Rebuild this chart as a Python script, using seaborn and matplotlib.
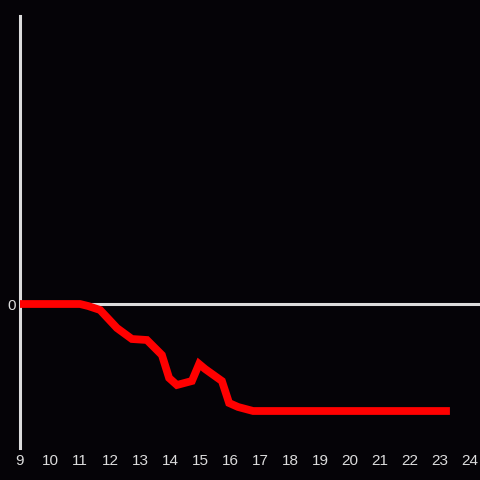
import matplotlib
matplotlib.use("Agg")
import matplotlib.pyplot as plt
import seaborn as sns
import pandas as pd

# hour of day vs value
hours = [9, 11, 11.27, 11.67, 12.23, 12.73, 13.23, 13.73, 13.97, 14.23, 14.73,
         14.97, 15.17, 15.73, 15.97, 16.27, 16.77, 23.33]
values = [0, 0, -0.02, -0.06, -0.24, -0.35, -0.36, -0.51, -0.74, -0.81, -0.77,
          -0.60, -0.65, -0.77, -0.99, -1.03, -1.07, -1.07]
xticks = list(range(9, 25))

bg = "#050307"
fg = "#dcdcdc"

sns.set_theme(style="dark")
fig = plt.figure(figsize=(4.8, 4.8), dpi=100, facecolor=bg)
ax = fig.add_axes([20 / 480, 32 / 480, 460 / 480, 432 / 480])
ax.set_facecolor(bg)

ax.axhline(0, color=fg, lw=2.2, zorder=1)
df = pd.DataFrame({"hour": hours, "value": values})
sns.lineplot(data=df, x="hour", y="value", ax=ax, color="#ff0000", lw=5.6,
             zorder=3)
ax.lines[-1].set_solid_joinstyle("miter")
ax.lines[-1].set_solid_capstyle("butt")

ax.set_xlim(9, 24.333)
ax.set_ylim(-1.44, 2.88)
ax.set_xticks(xticks)
ax.set_xticklabels([str(t) for t in xticks])
ax.set_yticks([0])
ax.set_yticklabels(["0"])
ax.set_xlabel("")
ax.set_ylabel("")
ax.grid(False)
ax.tick_params(length=0, colors=fg, labelsize=11)
ax.tick_params(axis="x", pad=4.5)
ax.tick_params(axis="y", pad=3)
for lab in ax.get_xticklabels() + ax.get_yticklabels():
    lab.set_family(["Liberation Sans", "DejaVu Sans"])
for s in ["top", "right", "bottom"]:
    ax.spines[s].set_visible(False)
ax.spines["left"].set_color(fg)
ax.spines["left"].set_linewidth(2.2)

fig.savefig("out.png", facecolor=bg)
